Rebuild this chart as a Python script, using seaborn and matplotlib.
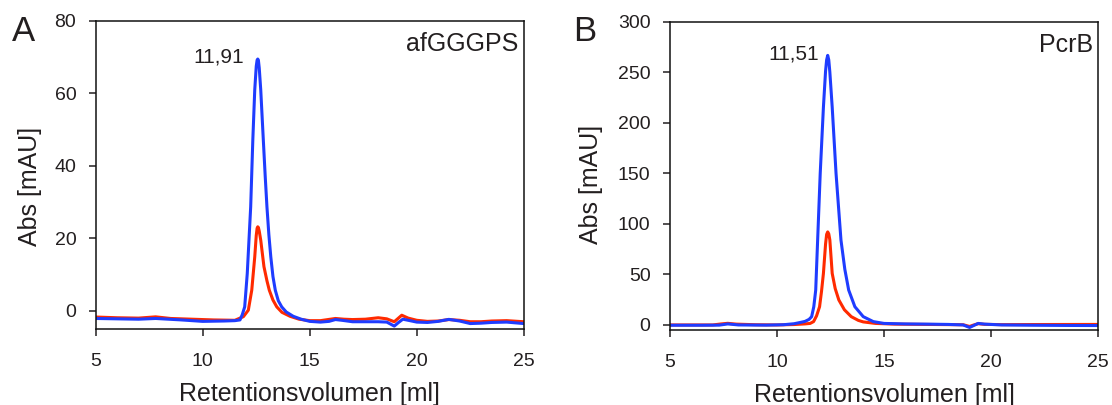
import matplotlib
matplotlib.use("Agg")
import matplotlib.pyplot as plt
import seaborn as sns
import pandas as pd

# --- Chromatogram traces (retention volume in ml, absorbance in mAU) ---
# Panel A: afGGGPS
a_blue_x = [5.0, 6.0, 7.0, 7.8, 9.0, 10.0, 11.0, 11.5, 11.74, 11.85, 11.96, 12.08, 12.24, 12.34,
            12.43, 12.50, 12.54, 12.57, 12.60, 12.64, 12.71, 12.83, 12.92, 13.0, 13.09, 13.18,
            13.28, 13.39, 13.53, 13.69, 13.9, 14.23, 14.6, 15.0, 15.5, 15.9, 16.2, 16.5, 17.0,
            17.5, 18.2, 18.6, 18.95, 19.15, 19.35, 19.6, 20.0, 20.5, 21.0, 21.5, 22.0, 22.5,
            23.0, 23.5, 24.2, 25.0]
a_blue_y = [-2.1, -2.2, -2.3, -2.1, -2.5, -2.9, -2.8, -2.7, -2.5, -1.0, 1.1, 10.3, 28.7, 47.2,
            61.0, 67.5, 69.2, 69.5, 69.2, 67.0, 61.0, 47.2, 37.0, 28.7, 21.0, 14.9,
            9.5, 5.7, 2.8, 1.1, -0.3, -1.5, -2.3, -2.9, -3.1, -2.9, -2.4, -2.6, -3.0,
            -3.0, -3.0, -3.1, -4.2, -3.2, -2.3, -2.6, -3.1, -3.2, -2.9, -2.35, -2.8, -3.5,
            -3.4, -3.2, -3.1, -3.5]
a_red_x = [5.0, 6.0, 7.0, 7.8, 8.5, 9.5, 10.5, 11.5, 11.9, 12.13, 12.29, 12.43, 12.50, 12.54,
           12.57, 12.60, 12.64, 12.71, 12.86, 13.0, 13.11, 13.28, 13.46, 13.7, 14.08, 14.5,
           15.0, 15.5, 16.2, 16.6, 17.0, 17.6, 18.2, 18.6, 18.95, 19.3, 19.6, 20.0, 20.5,
           21.0, 21.5, 22.0, 22.5, 23.0, 23.5, 24.2, 25.0]
a_red_y = [-1.7, -1.9, -2.0, -1.65, -2.1, -2.3, -2.5, -2.6, -1.6, 0.2, 5.7, 14.9, 20.8, 22.8,
           23.2, 23.0, 22.0, 19.5, 12.2, 8.3, 5.7, 3.0, 1.1, -0.4, -1.5, -2.3,
           -2.7, -2.7, -2.1, -2.3, -2.4, -2.3, -1.9, -2.2, -3.0, -1.2, -2.0, -2.6, -2.9,
           -2.8, -2.4, -2.6, -3.0, -3.0, -2.8, -2.7, -3.0]

# Panel B: PcrB
b_blue_x = [5.0, 6.5, 7.3, 7.7, 8.2, 9.5, 10.3, 10.8, 11.1, 11.31, 11.5, 11.62, 11.72, 11.81,
            11.90, 12.02, 12.17, 12.27, 12.32, 12.37, 12.42, 12.47, 12.58, 12.76, 12.99, 13.17,
            13.35, 13.64, 14.03, 14.5, 15.0, 16.0, 17.0, 18.0, 18.7, 19.0, 19.2, 19.4, 19.7,
            20.5, 22.0, 23.5, 25.0]
b_blue_y = [-0.3, -0.3, -0.2, 1.0, 0.0, -0.2, 0.2, 1.2, 2.5, 3.5, 5.5, 8.2, 18.0, 34.5,
            83.9, 149.7, 215.4, 251.0, 262.0, 266.5, 262.0, 250.0, 215.4, 149.7, 83.9, 55.0,
            34.5, 18.0, 8.2, 3.3, 1.5, 1.0, 0.8, 0.5, 0.0, -2.5, -0.5, 1.5, 0.8,
            0.0, -0.3, -0.5, -0.6]
b_red_x = [5.0, 7.0, 7.4, 7.7, 8.1, 9.0, 10.0, 10.8, 11.3, 11.55, 11.71, 11.85, 11.99, 12.08,
           12.17, 12.27, 12.32, 12.37, 12.42, 12.47, 12.58, 12.72, 12.89, 13.15, 13.47, 13.8,
           14.03, 14.6, 15.5, 17.0, 18.7, 19.0, 19.2, 19.4, 19.7, 20.5, 22.0, 25.0]
b_red_y = [0.0, 0.0, 1.0, 1.6, 0.8, 0.2, 0.0, 0.4, 1.0, 1.5, 3.3, 9.0, 18.0, 33.0,
           51.0, 80.0, 89.5, 92.0, 90.0, 84.0, 51.0, 36.0, 24.7, 15.0, 8.2, 4.5,
           3.0, 1.5, 0.8, 0.5, 0.2, -1.5, 0.0, 1.2, 0.6, 0.3, 0.4, 0.5]

panel_letters = ["A", "B"]
protein_names = ["afGGGPS", "PcrB"]
peak_labels = ["11,91", "11,51"]
x_ticks = [5, 10, 15, 20, 25]
a_y_ticks = [0, 20, 40, 60, 80]
b_y_ticks = [0, 50, 100, 150, 200, 250, 300]

x_label = "Retentionsvolumen [ml]"
y_label = "Abs [mAU]"


def trace_frame(xr, yr, xb, yb):
    red = pd.DataFrame({"volume": xr, "abs": yr, "trace": "red"})
    blue = pd.DataFrame({"volume": xb, "abs": yb, "trace": "blue"})
    return pd.concat([red, blue], ignore_index=True)


df_a = trace_frame(a_red_x, a_red_y, a_blue_x, a_blue_y)
df_b = trace_frame(b_red_x, b_red_y, b_blue_x, b_blue_y)

sns.set_theme(style="ticks")
plt.rcParams["font.family"] = ["Liberation Sans", "DejaVu Sans"]
TEXT = "#231f20"
plt.rcParams["text.color"] = TEXT
plt.rcParams["axes.labelcolor"] = TEXT
plt.rcParams["xtick.color"] = TEXT
plt.rcParams["ytick.color"] = TEXT

palette = {"red": "#ff2a00", "blue": "#1f3cff"}

fig = plt.figure(figsize=(11.12, 4.05), dpi=100)
ax_a = fig.add_axes([0.0861, 0.1877, 0.3849, 0.7605])
ax_b = fig.add_axes([0.6025, 0.1852, 0.3849, 0.7617])

panels = [
    (ax_a, df_a, (-5, 80), a_y_ticks, -0.126, 0.464, (-10, 1.5)),
    (ax_b, df_b, (-5, 300), b_y_ticks, -0.157, 0.473, (-6, 1.2)),
]

for i, (ax, df, ylim, yticks, ylab_x, ylab_y, txt_off) in enumerate(panels):
    sns.lineplot(data=df, x="volume", y="abs", hue="trace", hue_order=["red", "blue"],
                 palette=palette, estimator=None, sort=False, linewidth=2.2,
                 legend=False, ax=ax)
    ax.set_xlim(5, 25)
    ax.set_ylim(*ylim)
    ax.set_xticks(x_ticks)
    ax.set_yticks(yticks)
    ax.set_xlabel(x_label, fontsize=18)
    ax.set_ylabel(y_label, fontsize=18)
    ax.xaxis.set_label_coords(0.5, -0.172)
    ax.yaxis.set_label_coords(ylab_x, ylab_y)
    ax.tick_params(axis="both", labelsize=14, length=5, width=1.1, direction="out")
    ax.tick_params(axis="y", pad=9)
    ax.tick_params(axis="x", pad=12)
    for sp in ax.spines.values():
        sp.set_visible(True)
        sp.set_linewidth(1.1)
        sp.set_color("#111111")

    # protein name in the upper right corner
    ax.text(0.988, 0.925, protein_names[i], transform=ax.transAxes, ha="right",
            va="center", fontsize=18)

    # retention volume label beside the main peak (blue trace maximum)
    sub = df[df["trace"] == "blue"]
    top = sub.loc[sub["abs"].idxmax()]
    ax.annotate(peak_labels[i], xy=(top["volume"], top["abs"]), xytext=txt_off,
                textcoords="offset points", ha="right", va="center", fontsize=15)

fig.text(12 / 1112, 1 - 15 / 405, panel_letters[0], fontsize=25, ha="left", va="top")
fig.text(573 / 1112, 1 - 15 / 405, panel_letters[1], fontsize=25, ha="left", va="top")

fig.savefig("out.png", dpi=100)
